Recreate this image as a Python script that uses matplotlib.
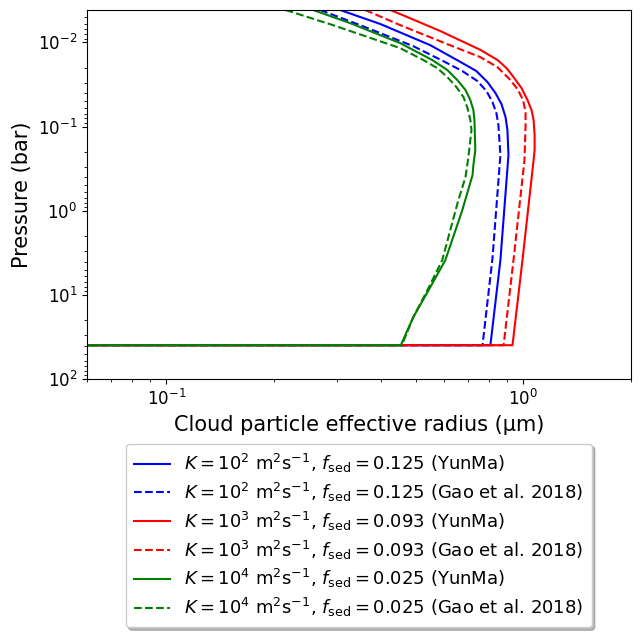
import matplotlib
matplotlib.use("Agg")
from matplotlib import pyplot as plt

# cloud particle effective radius (um) vs pressure (bar)
# last point of every profile is the "no cloud" value below the cloud base
p_k2_yunma = [0.00413, 0.00606, 0.0108, 0.0171, 0.0219, 0.0296, 0.040, 0.0540, 0.077, 0.110,
              0.218, 3.85, 39.4, 39.4]
r_k2_yunma = [0.307, 0.398, 0.549, 0.667, 0.739, 0.794, 0.836, 0.869, 0.892, 0.903,
              0.909, 0.863, 0.809, 1e-4]

p_k2_gao = [0.00413, 0.00624, 0.0111, 0.0167, 0.0219, 0.0288, 0.0379, 0.0512, 0.0691, 0.0960,
            0.218, 3.65, 39.4, 39.4]
r_k2_gao = [0.270, 0.349, 0.492, 0.597, 0.675, 0.744, 0.789, 0.820, 0.841, 0.852,
            0.863, 0.820, 0.769, 1e-4]

p_k3_yunma = [0.00413, 0.00461, 0.00734, 0.0123, 0.0162, 0.0202, 0.0258, 0.0349, 0.0485, 0.0637,
              0.0837, 0.126, 0.190, 0.250, 3.85, 39.4, 39.4]
r_k3_yunma = [0.424, 0.452, 0.586, 0.759, 0.847, 0.898, 0.939, 0.989, 1.028, 1.055,
              1.069, 1.076, 1.076, 1.069, 0.995, 0.933, 1e-4]

p_k3_gao = [0.00413, 0.00624, 0.0105, 0.0150, 0.0197, 0.0273, 0.0359, 0.0485, 0.0673, 0.0960,
            0.250, 3.85, 39.4, 39.4]
r_k3_gao = [0.361, 0.452, 0.613, 0.759, 0.847, 0.915, 0.964, 0.999, 1.015, 1.015,
            1.008, 0.939, 0.881, 1e-4]

p_k4_yunma = [0.00413, 0.0059, 0.0102, 0.0162, 0.0213, 0.0281, 0.0368, 0.0485, 0.0637, 0.0837,
              0.190, 0.287, 0.377, 0.98, 3.85, 8.06, 18.3, 39.4, 39.4]
r_k4_yunma = [0.258, 0.327, 0.452, 0.556, 0.613, 0.654, 0.689, 0.711, 0.725, 0.730,
              0.734, 0.725, 0.721, 0.675, 0.605, 0.549, 0.492, 0.454, 1e-4]

p_k4_gao = [0.00413, 0.00624, 0.0117, 0.0162, 0.0202, 0.0258, 0.034, 0.0446, 0.0603, 0.0837,
            0.110, 0.230, 0.398, 0.746, 3.85, 8.74, 18.3, 39.4, 39.4]
r_k4_gao = [0.216, 0.293, 0.452, 0.525, 0.574, 0.613, 0.650, 0.680, 0.698, 0.711,
            0.716, 0.702, 0.689, 0.658, 0.593, 0.539, 0.492, 0.457, 1e-4]

labels = [r'$K=10^2$ m$^2$s$^{-1}$, $f_\mathrm{sed}=0.125$ (YunMa)',
          r'$K=10^2$ m$^2$s$^{-1}$, $f_\mathrm{sed}=0.125$ (Gao et al. 2018)',
          r'$K=10^3$ m$^2$s$^{-1}$, $f_\mathrm{sed}=0.093$ (YunMa)',
          r'$K=10^3$ m$^2$s$^{-1}$, $f_\mathrm{sed}=0.093$ (Gao et al. 2018)',
          r'$K=10^4$ m$^2$s$^{-1}$, $f_\mathrm{sed}=0.025$ (YunMa)',
          r'$K=10^4$ m$^2$s$^{-1}$, $f_\mathrm{sed}=0.025$ (Gao et al. 2018)']

fig = plt.figure(figsize=(6.4, 6.38), dpi=100)
ax = fig.add_axes([0.136, 0.4055, 0.8495, 0.5788])

ax.plot(r_k2_yunma, p_k2_yunma, color='blue', ls='-', label=labels[0])
ax.plot(r_k2_gao, p_k2_gao, color='blue', ls='--', label=labels[1])
ax.plot(r_k3_yunma, p_k3_yunma, color='red', ls='-', label=labels[2])
ax.plot(r_k3_gao, p_k3_gao, color='red', ls='--', label=labels[3])
ax.plot(r_k4_yunma, p_k4_yunma, color='green', ls='-', label=labels[4])
ax.plot(r_k4_gao, p_k4_gao, color='green', ls='--', label=labels[5])

ax.set_xscale('log')
ax.set_yscale('log')
ax.set_xlim(0.06, 2)
ax.set_ylim(100, 0.00413)
ax.tick_params(labelsize=12)
ax.set_xlabel('Cloud particle effective radius (μm)', fontsize=15)
ax.set_ylabel('Pressure (bar)', fontsize=15)

ax.legend(loc='upper center', bbox_to_anchor=(0.5, -0.15), fontsize=13, labelspacing=0.32,
          borderpad=0.45, shadow={'color': '0.55', 'alpha': 0.6})

fig.savefig('out.png', dpi=100)
